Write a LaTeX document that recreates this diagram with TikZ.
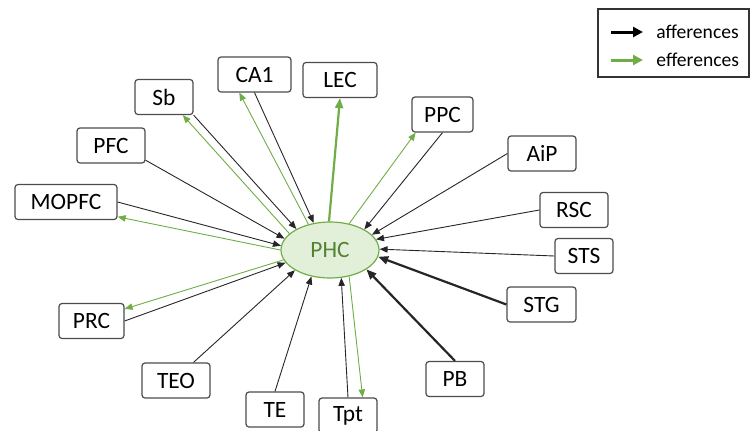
\documentclass[tikz,border=0pt]{standalone}
\usepackage{fontspec}
\setmainfont{Carlito}
\usetikzlibrary{arrows.meta,shapes.geometric}
\definecolor{effgreen}{RGB}{112,173,71}
\definecolor{phcfill}{RGB}{226,240,217}
\definecolor{phctext}{RGB}{84,130,53}
\tikzset{
  box/.style={draw=black!70, rounded corners=1.5pt, line width=0.6pt, minimum height=17.5pt,
    inner sep=0pt, font=\fontsize{11.7}{14}\selectfont},
  aff/.style={-{Triangle[length=4pt,width=3.2pt]}, line width=0.45pt, black!85},
  eff/.style={-{Triangle[length=4pt,width=3.2pt]}, line width=0.45pt, effgreen},
  heavy/.style={line width=1.1pt, -{Triangle[length=5pt,width=4pt]}}
}
\begin{document}
\begin{tikzpicture}[x=0.5pt,y=-0.5pt]
  \useasboundingbox (0,0) rectangle (752,430);

  % centre
  \node[draw=effgreen, fill=phcfill, ellipse, minimum width=49pt, minimum height=28pt, inner sep=0pt,
    line width=0.6pt, text=phctext, font=\fontsize{11.7}{14}\selectfont] (PHC) at (330,250) {PHC};

  % areas
  \node[box, minimum width=29pt]   (Sb)    at (164,97)    {Sb};
  \node[box, minimum width=36.5pt] (CA1)   at (254.5,74.5) {CA1};
  \node[box, minimum width=37pt]   (LEC)   at (340,80)    {LEC};
  \node[box, minimum width=34pt]   (PFC)   at (111,145.5) {PFC};
  \node[box, minimum width=51pt]   (MOPFC) at (66,202)    {MOPFC};
  \node[box, minimum width=30.5pt] (PPC)   at (442.5,114.5) {PPC};
  \node[box, minimum width=34pt]   (AiP)   at (542,153.5) {AiP};
  \node[box, minimum width=34pt]   (RSC)   at (574,210)   {RSC};
  \node[box, minimum width=29pt]   (STS)   at (584,256)   {STS};
  \node[box, minimum width=34.5pt] (STG)   at (541.5,304.5) {STG};
  \node[box, minimum width=29pt]   (PB)    at (455,379)   {PB};
  \node[box, minimum width=29pt]   (Tpt)   at (348,415.5) {Tpt};
  \node[box, minimum width=29pt]   (TE)    at (275,409.5) {TE};
  \node[box, minimum width=34pt]   (TEO)   at (176,380.5) {TEO};
  \node[box, minimum width=32.5pt] (PRC)   at (91.5,321)  {PRC};

  % afferences
  \draw[aff] (Sb.south east) -- (PHC.148);
  \draw[aff] (CA1.south) -- (PHC.121);
  \draw[aff] (PFC.-23) -- (PHC.166);
  \draw[aff] (MOPFC.east) -- (PHC.175);
  \draw[aff] (PPC.south) -- (PHC.31);
  \draw[aff] (AiP.west) -- (PHC.20);
  \draw[aff] (RSC.west) -- (PHC.13);
  \draw[aff] (STS.west) -- (PHC.1);
  \draw[aff, heavy] (STG.west) -- (PHC.352);
  \draw[aff, heavy] (PB.north) -- (PHC.332);
  \draw[aff] (Tpt.north) -- (PHC.292);
  \draw[aff] (TE.north) -- (PHC.235);
  \draw[aff] (TEO.46) -- (PHC.210);
  \draw[aff] (PRC.east) -- (PHC.196);

  % efferences
  \draw[eff] (PHC.158) -- (Sb.-44);
  \draw[eff] (PHC.130) -- (CA1.-130);
  \draw[eff, heavy] (PHC.92) -- (LEC.south);
  \draw[eff] (PHC.54) -- (PPC.-146);
  \draw[eff] (PHC.180) -- (MOPFC.-16);
  \draw[eff] (PHC.192) -- (PRC.20);
  \draw[eff] (PHC.306) -- (Tpt.51);

  % legend
  \node[draw=black!80, line width=0.6pt, minimum width=75.5pt, minimum height=34pt] (legend) at (673.5,43) {};
  \coordinate (aff0) at (611,32);
  \coordinate (aff1) at (643,32);
  \coordinate (eff0) at (611,60);
  \coordinate (eff1) at (643,60);
  \draw[black, line width=1.5pt, -{Triangle[length=5pt,width=5pt]}] (aff0) -- (aff1);
  \draw[effgreen, line width=1.5pt, -{Triangle[length=5pt,width=5pt]}] (eff0) -- (eff1);
  \node[anchor=west, inner sep=0pt, font=\fontsize{9.8}{12}\selectfont] (afftext) at (656,32) {afferences};
  \node[anchor=west, inner sep=0pt, font=\fontsize{9.8}{12}\selectfont] (efftext) at (656,60) {efferences};
\end{tikzpicture}
\end{document}
